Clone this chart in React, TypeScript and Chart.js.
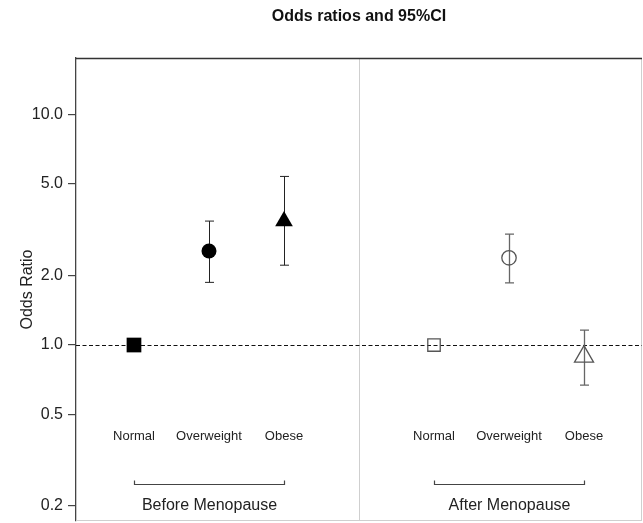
import React, { useEffect, useRef } from "react";
import { Chart, registerables } from "chart.js";

Chart.register(...registerables);

// ---- data ----
const categories = ["Normal", "Overweight", "Obese"];
const groups = ["Before Menopause", "After Menopause"];
const beforeX = [1, 2, 3];
const afterX = [5, 6, 7];
const dividerX = 4;
const beforeOR = [1.0, 2.56, 3.45];
const beforeLower = [1.0, 1.87, 2.22];
const beforeUpper = [1.0, 3.45, 5.39];
const afterOR = [1.0, 2.39, 0.89];
const afterLower = [1.0, 1.86, 0.67];
const afterUpper = [1.0, 3.03, 1.16];
const yTicks = [0.2, 0.5, 1, 2, 5, 10];
const referenceOR = 1;
const categoryLabelY = 0.4;
const bracketY = 0.25;
const groupLabelY = 0.2;
const yMin = 0.1723;
const yMax = 17.6;
const xMin = 0.227;
const xMax = 7.773;

const FONT = "'Liberation Sans', Arial, sans-serif";

const zeroPad = (s: any) => {
  s.paddingTop = 0;
  s.paddingBottom = 0;
  s.paddingLeft = 0;
  s.paddingRight = 0;
};

const decorations = {
  id: "decorations",
  beforeDatasetsDraw(chart: any) {
    const { ctx, chartArea: a, scales } = chart;
    const x = scales.x;
    const y = scales.y;
    ctx.save();
    // light borders and divider
    ctx.strokeStyle = "#cfcfcf";
    ctx.lineWidth = 1;
    const dx = Math.round(x.getPixelForValue(dividerX)) + 0.5;
    ctx.beginPath();
    ctx.moveTo(dx, a.top);
    ctx.lineTo(dx, a.bottom);
    ctx.moveTo(a.right - 0.5, a.top);
    ctx.lineTo(a.right - 0.5, a.bottom);
    ctx.moveTo(a.left, a.bottom - 0.5);
    ctx.lineTo(a.right, a.bottom - 0.5);
    ctx.stroke();
    // reference dashed line
    const ry = Math.round(y.getPixelForValue(referenceOR)) + 0.5;
    ctx.strokeStyle = "#111";
    ctx.setLineDash([4, 2.5]);
    ctx.beginPath();
    ctx.moveTo(a.left, ry);
    ctx.lineTo(a.right, ry);
    ctx.stroke();
    ctx.setLineDash([]);
    // error bars
    const drawBars = (xs: number[], lo: number[], hi: number[], color: string, w: number) => {
      ctx.strokeStyle = color;
      ctx.lineWidth = w;
      xs.forEach((xv, i) => {
        if (lo[i] === hi[i]) return;
        const px = Math.round(x.getPixelForValue(xv)) + 0.5;
        const y1 = y.getPixelForValue(lo[i]);
        const y2 = y.getPixelForValue(hi[i]);
        ctx.beginPath();
        ctx.moveTo(px, y1);
        ctx.lineTo(px, y2);
        ctx.moveTo(px - 4.5, y1);
        ctx.lineTo(px + 4.5, y1);
        ctx.moveTo(px - 4.5, y2);
        ctx.lineTo(px + 4.5, y2);
        ctx.stroke();
      });
    };
    drawBars(beforeX, beforeLower, beforeUpper, "#222", 1);
    drawBars(afterX, afterLower, afterUpper, "#666", 1.3);
    ctx.restore();
  },
  afterDatasetsDraw(chart: any) {
    const { ctx, chartArea: a, scales } = chart;
    const x = scales.x;
    const y = scales.y;
    ctx.save();
    // top border
    ctx.strokeStyle = "#333";
    ctx.lineWidth = 1.3;
    ctx.beginPath();
    ctx.moveTo(a.left, a.top + 0.5);
    ctx.lineTo(a.right, a.top + 0.5);
    ctx.stroke();
    // category labels, brackets and group labels
    ctx.fillStyle = "#222";
    ctx.textAlign = "center";
    ctx.textBaseline = "middle";
    [beforeX, afterX].forEach((xs, g) => {
      ctx.font = `13px ${FONT}`;
      xs.forEach((xv, i) => {
        ctx.fillText(categories[i], x.getPixelForValue(xv), y.getPixelForValue(categoryLabelY));
      });
      const bx1 = Math.round(x.getPixelForValue(xs[0])) + 0.5;
      const bx2 = Math.round(x.getPixelForValue(xs[xs.length - 1])) + 0.5;
      const by = Math.round(y.getPixelForValue(bracketY)) + 0.5;
      ctx.strokeStyle = "#444";
      ctx.lineWidth = 1.2;
      ctx.beginPath();
      ctx.moveTo(bx1, by - 4);
      ctx.lineTo(bx1, by);
      ctx.lineTo(bx2, by);
      ctx.lineTo(bx2, by - 4);
      ctx.stroke();
      ctx.font = `16px ${FONT}`;
      ctx.fillText(groups[g], (bx1 + bx2) / 2, y.getPixelForValue(groupLabelY));
    });
    ctx.restore();
  },
};

export default function App() {
  const ref = useRef<HTMLCanvasElement>(null);
  useEffect(() => {
    if (!ref.current) return;
    const chart = new Chart(ref.current, {
      type: "scatter",
      data: {
        datasets: [
          {
            data: beforeX.map((xv, i) => ({ x: xv, y: beforeOR[i] })),
            pointStyle: ["rect", "circle", "triangle"],
            pointRadius: [10.4, 7.5, 10.2],
            backgroundColor: "#000",
            borderColor: "#000",
            borderWidth: 0,
          },
          {
            data: afterX.map((xv, i) => ({ x: xv, y: afterOR[i] })),
            pointStyle: ["rect", "circle", "triangle"],
            pointRadius: [8.8, 7.2, 11],
            backgroundColor: "rgba(0,0,0,0)",
            borderColor: "#555",
            borderWidth: 1.3,
          },
        ],
      },
      options: {
        animation: false,
        responsive: false,
        events: [],
        layout: { autoPadding: false, padding: { top: 0, right: 1, bottom: 2, left: 0 } },
        plugins: {
          legend: { display: false },
          tooltip: { enabled: false },
          title: {
            display: true,
            text: "Odds ratios and 95%CI",
            fullSize: false,
            color: "#111",
            font: { family: FONT, size: 16, weight: "bold" },
            padding: { top: 7, bottom: 31.8 },
          },
        },
        scales: {
          x: { type: "linear", display: false, min: xMin, max: xMax, afterFit: zeroPad },
          y: {
            type: "logarithmic",
            min: yMin,
            max: yMax,
            afterBuildTicks: (s: any) => {
              s.ticks = yTicks.map((v) => ({ value: v }));
            },
            afterFit: (s: any) => {
              s.width = 76;
              zeroPad(s);
            },
            border: { display: true, color: "#444", width: 1.3 },
            grid: { display: true, drawOnChartArea: false, drawTicks: true, tickLength: 8, color: "#444", lineWidth: 1.2 },
            ticks: {
              autoSkip: false,
              padding: 5,
              color: "#222",
              font: { family: FONT, size: 16 },
              callback: (v: any) => Number(v).toFixed(1),
            },
            title: {
              display: true,
              text: "Odds Ratio",
              color: "#222",
              font: { family: FONT, size: 16 },
              padding: { top: 18, bottom: 0 },
            },
          },
        },
      },
      plugins: [decorations],
    } as any);
    return () => chart.destroy();
  }, []);
  return (
    <div style={{ position: "fixed", left: 0, top: 0, width: 643, height: 523, background: "#fff" }}>
      <canvas ref={ref} width={643} height={523} style={{ display: "block" }} />
    </div>
  );
}
